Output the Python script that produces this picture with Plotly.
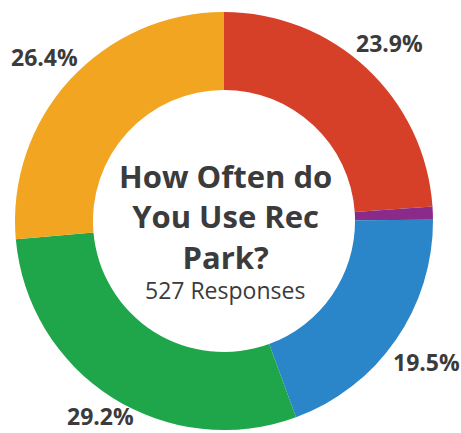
import math
import plotly.graph_objects as go

# Survey answer shares (percent of 527 responses), clockwise from 12 o'clock
categories = ["Answer A", "Answer B", "Answer C", "Answer D", "Answer E"]
shares = [23.9, 1.0, 19.5, 29.2, 26.4]
colors = ["#D64029", "#8A2B8A", "#2A86C8", "#1FA64A", "#F2A521"]
show_label = [True, False, True, True, True]

title_lines = ["How Often do", "You Use Rec", "Park?"]
subtitle = "527 Responses"

W, H = 461, 433
cx, cy_top = 224, 221          # donut centre in pixels (from top-left)
r_outer = 209
label_radii = [243, 0, 247, 231, 243]   # distance of each outside label from the centre
text_color = "#3B3B3B"

fig = go.Figure(go.Pie(
    labels=categories,
    values=shares,
    sort=False,
    direction="clockwise",
    rotation=0,
    hole=0.627,
    marker=dict(colors=colors, line=dict(width=0)),
    textinfo="none",
    hoverinfo="label+value",
    showlegend=False,
    domain=dict(
        x=[(cx - r_outer) / W, (cx + r_outer) / W],
        y=[(H - cy_top - r_outer) / H, (H - cy_top + r_outer) / H],
    ),
))

annotations = []
total = sum(shares)
start = 0.0
for val, show, lr in zip(shares, show_label, label_radii):
    mid = start + val / total * 360 / 2
    start += val / total * 360
    if not show:
        continue
    th = math.radians(mid)
    px = cx + lr * math.sin(th)
    py = (H - cy_top) + lr * math.cos(th)
    annotations.append(dict(
        x=px / W, y=py / H, xref="paper", yref="paper",
        text=f"{val:.1f}%", showarrow=False,
        xanchor="center", yanchor="middle",
        font=dict(family="Open Sans", size=23, color=text_color, weight="bold"),
    ))

# Centre title (three lines) and response count
annotations.append(dict(
    x=225 / W, y=(H - 217) / H, xref="paper", yref="paper",
    text="<br>".join(title_lines), showarrow=False,
    xanchor="center", yanchor="middle", align="center",
    font=dict(family="Open Sans", size=31, color=text_color, weight="bold"),
))
annotations.append(dict(
    x=225 / W, y=(H - 290) / H, xref="paper", yref="paper",
    text=subtitle, showarrow=False, xanchor="center", yanchor="middle",
    font=dict(family="Open Sans", size=23, color=text_color),
))

fig.update_layout(
    width=W, height=H,
    margin=dict(l=0, r=0, t=0, b=0),
    paper_bgcolor="white",
    plot_bgcolor="white",
    annotations=annotations,
)

fig.write_html("out.html")
